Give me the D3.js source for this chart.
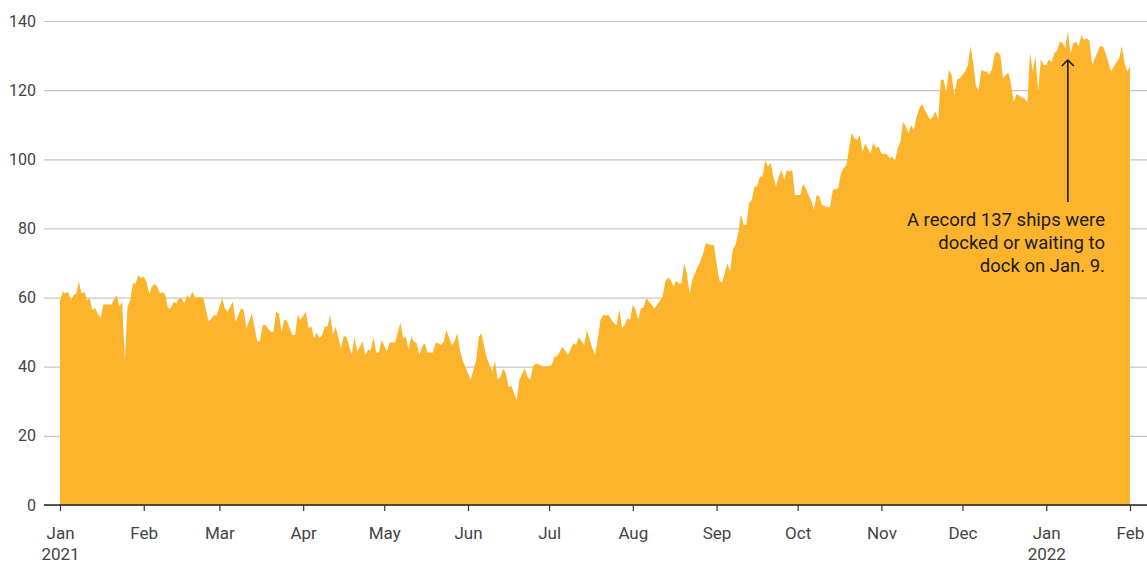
<!DOCTYPE html>
<meta charset="utf-8">
<script src="https://d3js.org/d3.v7.min.js"></script>
<head>
  <style>
    html, body {
      margin: 0;
      padding: 0;
      background: #fff;
    }
    svg text {
      font-family: 'Roboto', 'Liberation Sans', sans-serif;
    }
  </style>
</head>
<body>
<div id="my_dataviz"></div>
<script>

// days since Jan 1 2021 and ships docked or waiting
var dayOffsets = [0,1,2,3,4,5,6,7,8,9,10,11,12,13,14,15,16,19,21,22,23,24,25,26,27,28,29,30,31,32,33,34,35,36,37,38,39,40,41,42,43,44,45,46,47,48,49,50,53,55,57,58,60,61,62,64,
  65,66,67,68,69,71,73,74,75,76,78,79,80,81,82,83,84,86,87,88,89,91,92,93,94,95,96,97,98,99,100,101,102,104,105,106,108,109,110,112,113,114,115,116,117,118,119,121,122,124,126,127,128,129,130,131,
  132,133,134,135,136,138,139,140,141,142,143,145,146,147,148,149,152,154,155,156,157,158,160,161,162,163,164,165,166,167,169,170,172,173,174,175,176,177,179,181,182,183,184,186,188,190,191,192,194,195,197,198,199,
  200,201,203,205,206,207,208,209,210,211,212,213,214,215,216,217,219,220,221,223,224,225,226,227,228,229,230,231,232,233,234,236,237,238,239,241,242,243,244,245,246,247,248,249,250,251,252,253,254,255,256,257,258,259,260,
  261,262,263,264,265,266,267,268,269,270,271,272,274,275,276,277,278,279,280,281,282,284,285,286,288,289,290,291,293,294,295,296,297,298,300,301,302,303,304,306,307,308,309,310,311,312,313,314,315,316,317,318,319,320,
  322,323,324,325,326,327,328,329,330,331,332,333,335,336,337,338,339,340,341,342,343,344,345,346,347,348,349,350,351,352,353,354,356,357,358,359,360,361,362,363,364,365,366,367,368,369,370,371,372,373,374,375,376,377,
  378,379,380,381,382,383,385,386,387,389,390,392,393,394,395,396];

var shipCounts = [59.3,61.7,61.2,61.7,59.3,60.7,61.2,64.6,61.2,61.7,59.3,59.8,56.4,56.9,55.4,54.0,58.0,58.0,60.7,57.4,58.8,41.9,57.4,59.3,64.1,64.1,66.5,65.6,66.1,64.6,61.2,63.2,63.9,63.2,61.2,61.7,60.7,56.9,56.9,58.8,58.3,59.8,59.8,58.3,60.7,59.8,61.7,60.1,60.1,53.0,54.9,54.9,59.8,56.9,55.9,58.8,
  53.0,54.9,56.9,56.4,51.1,55.4,47.3,47.3,52.1,52.1,50.1,50.1,55.9,55.4,50.1,53.7,53.2,49.2,49.2,55.0,53.5,55.9,51.1,51.7,48.2,49.9,48.2,49.2,51.6,51.6,55.0,49.2,51.6,45.3,48.9,48.7,43.4,48.7,44.3,47.3,43.4,44.8,44.8,48.7,44.1,44.1,47.7,44.3,47.0,47.0,52.8,48.2,48.7,45.0,48.7,47.3,
  46.8,43.4,45.8,46.8,44.1,44.1,47.0,46.8,46.3,47.2,50.6,46.3,47.2,49.7,44.9,41.9,36.2,41.9,48.7,49.7,45.8,42.4,38.7,41.6,36.2,37.1,39.5,38.1,34.1,34.5,30.4,36.2,39.5,37.1,36.2,40.0,40.9,40.7,40.0,40.2,40.5,42.9,43.0,45.8,43.4,46.8,46.3,48.5,46.3,50.6,45.4,43.4,47.7,
  53.5,54.9,54.9,52.6,52.1,56.6,51.2,52.1,54.0,53.5,57.9,56.5,53.5,56.9,57.2,59.8,57.9,56.9,57.9,60.2,64.6,65.8,65.0,63.2,64.8,64.1,64.1,69.9,67.0,61.2,65.0,68.9,70.4,72.8,75.7,75.2,75.2,69.9,65.0,64.3,67.0,69.9,67.5,73.8,75.2,78.6,84.0,81.0,81.0,87.3,88.2,92.1,92.1,95.0,95.0,
  99.8,97.9,98.9,95.0,92.1,95.0,96.9,94.0,96.9,96.4,96.9,89.7,89.7,92.9,91.6,89.7,88.2,85.3,89.7,89.3,86.8,86.1,86.1,91.1,91.6,95.9,97.4,98.3,107.7,106.1,105.6,107.0,102.2,104.6,101.7,104.8,103.2,103.7,101.7,101.5,100.3,100.8,99.6,103.2,105.0,110.9,109.4,107.5,109.9,108.5,112.3,114.7,116.0,114.4,
  111.4,112.3,113.8,111.4,123.0,123.0,119.6,125.9,124.4,118.6,123.0,123.5,125.4,127.3,132.8,127.8,121.0,120.2,125.9,125.4,125.4,124.4,126.4,130.7,131.0,130.2,123.5,124.4,125.1,121.5,116.4,118.9,117.9,117.6,116.4,130.9,125.4,129.9,119.6,128.9,127.3,127.3,128.9,128.0,130.7,131.4,134.0,133.7,132.1,137.0,130.7,133.5,134.0,132.6,
  135.9,134.5,135.0,134.3,127.3,129.2,132.8,132.6,130.7,125.4,126.9,129.2,132.8,127.8,125.4,126.9];

var yTicks = [0, 20, 40, 60, 80, 100, 120, 140];
var noteLines = ["A record 137 ships were", "docked or waiting to", "dock on Jan. 9."];
var recordDay = 373;

var width = 1147,
    height = 563;

var start = new Date(Date.UTC(2021, 0, 1)),
    end = new Date(Date.UTC(2022, 1, 1));

var data = dayOffsets.map(function(d, i) {
  return { date: d3.utcDay.offset(start, d), value: shipCounts[i] };
});

var svg = d3.select("#my_dataviz")
  .append("svg")
    .attr("width", width)
    .attr("height", height);

var x = d3.scaleUtc()
  .domain([start, end])
  .range([60, 1130]);

var y = d3.scaleLinear()
  .domain([0, 140])
  .range([505, 21]);

// gridlines + y labels
var yAxis = svg.append("g")
  .attr("transform", "translate(44,0)")
  .call(d3.axisLeft(y).tickValues(yTicks).tickSize(-(width - 44)).tickPadding(8))
yAxis.select(".domain").remove();
yAxis.selectAll(".tick line")
  .attr("stroke", "#c6c6c6")
  .attr("stroke-width", 1.2);
yAxis.selectAll(".tick text")
  .attr("fill", "#444")
  .style("font-size", "16px");

// area
var area = d3.area()
  .x(function(d) { return x(d.date); })
  .y0(y(0))
  .y1(function(d) { return y(d.value); });

svg.append("path")
  .datum(data)
  .attr("fill", "#fcb42c")
  .attr("d", area);

// baseline
svg.append("line")
  .attr("x1", 44)
  .attr("x2", width)
  .attr("y1", y(0))
  .attr("y2", y(0))
  .attr("stroke", "#222")
  .attr("stroke-width", 1.5);

//X axis
var months = d3.utcMonth.range(start, d3.utcDay.offset(end, 1));
var xAxis = svg.append("g")
  .attr("transform", "translate(0," + y(0) + ")")
  .call(d3.axisBottom(x).tickValues(months).tickSize(6)
    .tickFormat(d3.utcFormat("%b")));
xAxis.select(".domain").remove();
xAxis.selectAll(".tick line").attr("stroke", "#333").attr("stroke-width", 1.2);
xAxis.selectAll(".tick text")
  .attr("y", 34)
  .attr("dy", 0)
  .attr("fill", "#444")
  .style("font-size", "17px");

xAxis.selectAll(".tick")
  .filter(function(d) { return d.getUTCMonth() == 0; })
  .append("text")
    .attr("y", 55)
    .attr("fill", "#444")
    .attr("text-anchor", "middle")
    .style("font-size", "17px")
    .text(function(d) { return d.getUTCFullYear(); });

// annotation arrow
var ax = x(d3.utcDay.offset(start, recordDay));
svg.append("line")
  .attr("x1", ax).attr("x2", ax)
  .attr("y1", 202).attr("y2", 60)
  .attr("stroke", "#111")
  .attr("stroke-width", 1.5);
svg.append("path")
  .attr("d", "M" + (ax - 6) + ",66 L" + ax + ",60 L" + (ax + 6) + ",66")
  .attr("fill", "none")
  .attr("stroke", "#111")
  .attr("stroke-width", 1.5);

svg.append("g")
  .selectAll("text")
  .data(noteLines)
  .enter()
  .append("text")
    .attr("x", 1105)
    .attr("y", function(d, i) { return 226 + i * 23; })
    .attr("text-anchor", "end")
    .style("font-size", "18.5px")
    .attr("fill", "#1a1a1a")
    .text(function(d) { return d; });

</script>
</body>
